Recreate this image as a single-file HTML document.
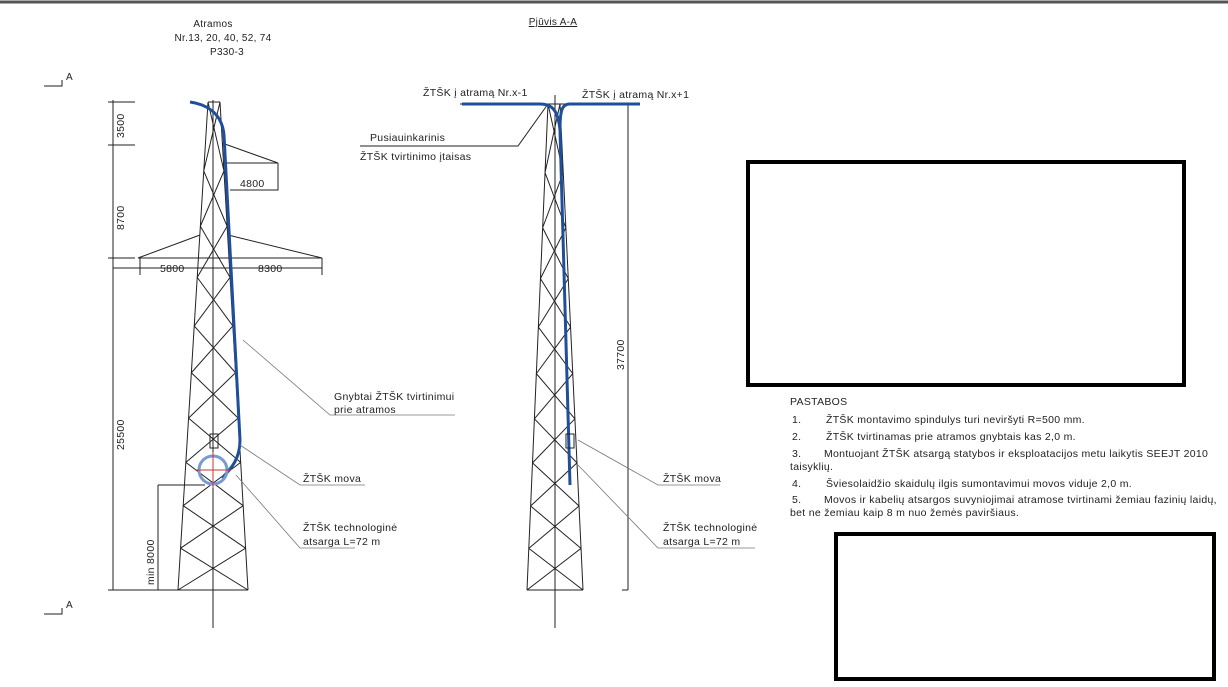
<!DOCTYPE html>
<html><head><meta charset="utf-8"><style>
body{margin:0;background:#fff;width:1228px;height:682px;overflow:hidden}
svg text{font-family:"Liberation Sans",sans-serif;fill:#222;letter-spacing:0.3px}
</style></head><body>
<svg id="s" width="1228" height="682" viewBox="0 0 1228 682" xmlns="http://www.w3.org/2000/svg">
<line x1="0" y1="2" x2="1228" y2="2" stroke="#555" stroke-width="3"/>
<g font-size="10">
<text x="213" y="27" text-anchor="middle">Atramos</text>
<text x="223" y="41" text-anchor="middle">Nr.13, 20, 40, 52, 74</text>
<text x="227" y="55" text-anchor="middle">P330-3</text>
<text x="553" y="25" text-anchor="middle" text-decoration="underline">Pjūvis A-A</text>
<text x="66" y="80">A</text><text x="66" y="608">A</text>
</g>
<g stroke="#222" stroke-width="1" fill="none">
<path d="M44 86H62V80M44 614H62V608"/>
<path d="M113 100V590M108 102H135M108 145H135M108 258H135M108 590H178M158 485V590M158 485H205"/>
<path d="M140 258H322M140 258V275M322 258V275M113 268H322M230 190H278V188M278 163V190"/>
<path d="M225 163L278 163L222 143M225 258L322 258L228 235M205 258L138 258L200 235"/>
<path d="M213 100V628"/>
<path d="M460 104H625M628 104V590M622 590H628M555 95V628"/>
<path d="M360 146H518L548 104"/>
</g>
<g id="t1" stroke="#222" stroke-width="1" fill="none"></g>
<g fill="none" stroke="#1f4f9a" stroke-width="3">
<path d="M190 102C205 104 222 112 224 135L240 440C240 458 232 468 222 478"/>
<path d="M462 104H540C552 104 558 110 560 130L570 485"/>
<path d="M640 104H570C562 104 560 110 560 130"/>
</g>
<g stroke="#c33" stroke-width="1" fill="none"><circle cx="213" cy="470" r="14" stroke="#7a9ad0" stroke-width="3"/><path d="M195 470H231M213 452V488"/></g>
<rect x="210" y="434" width="8" height="14" fill="none" stroke="#222"/>
<rect x="566" y="434" width="8" height="14" fill="none" stroke="#222"/>
<g stroke="#777" stroke-width="0.8" fill="none">
<path d="M243 340L330 415H455M240 445L300 485H365M236 475L300 548H355"/>
<path d="M578 440L658 485H720M578 465L658 548H755"/>
</g>
<g font-size="10.5">
<text x="124" y="138" transform="rotate(-90 124 138)">3500</text>
<text x="124" y="230" transform="rotate(-90 124 230)">8700</text>
<text x="124" y="450" transform="rotate(-90 124 450)">25500</text>
<text x="154" y="585" transform="rotate(-90 154 585)">min 8000</text>
<text x="624" y="370" transform="rotate(-90 624 370)">37700</text>
<text x="240" y="187">4800</text><text x="160" y="272">5800</text><text x="258" y="272">8300</text>
<text x="334" y="400">Gnybtai ŽTŠK tvirtinimui</text><text x="334" y="413">prie atramos</text>
<text x="303" y="482">ŽTŠK mova</text>
<text x="303" y="531">ŽTŠK technologinė</text><text x="303" y="545">atsarga L=72 m</text>
<text x="663" y="482">ŽTŠK mova</text>
<text x="663" y="531">ŽTŠK technologinė</text><text x="663" y="545">atsarga L=72 m</text>
<text x="423" y="96">ŽTŠK į atramą Nr.x-1</text><text x="582" y="98">ŽTŠK į atramą Nr.x+1</text>
<text x="370" y="141">Pusiauinkarinis</text><text x="360" y="160">ŽTŠK tvirtinimo įtaisas</text>
<text x="790" y="405">PASTABOS</text>
<text x="792" y="423">1.</text><text x="826" y="423">ŽTŠK montavimo spindulys turi neviršyti R=500 mm.</text>
<text x="792" y="440">2.</text><text x="826" y="440">ŽTŠK tvirtinamas prie atramos gnybtais kas 2,0 m.</text>
<text x="792" y="457">3.</text><text x="824" y="457">Montuojant ŽTŠK atsargą statybos ir eksploatacijos metu laikytis SEEJT 2010</text>
<text x="790" y="470">taisyklių.</text>
<text x="792" y="487">4.</text><text x="826" y="487">Šviesolaidžio skaidulų ilgis sumontavimui movos viduje 2,0 m.</text>
<text x="792" y="503">5.</text><text x="824" y="503">Movos ir kabelių atsargos suvyniojimai atramose tvirtinami žemiau fazinių laidų,</text>
<text x="790" y="516">bet ne žemiau kaip 8 m nuo žemės paviršiaus.</text>
</g>
<rect x="748" y="162" width="436" height="223" fill="none" stroke="#000" stroke-width="4"/>
<rect x="836" y="534" width="378" height="145" fill="none" stroke="#000" stroke-width="4"/>
</svg>
<script>
function tower(tl,tr,bl,br,yt,yb,n){
 var g=document.getElementById('t1'),d='';
 d+='M'+tl+' '+yt+'L'+bl+' '+yb+'M'+tr+' '+yt+'L'+br+' '+yb+'M'+tl+' '+yt+'H'+tr+'M'+bl+' '+yb+'H'+br;
 var ys=[];for(var i=0;i<=n;i++){var t=i/n;ys.push(yt+(yb-yt)*Math.pow(t,0.85));}
 function L(y){var t=(y-yt)/(yb-yt);return tl+(bl-tl)*t}
 function R(y){var t=(y-yt)/(yb-yt);return tr+(br-tr)*t}
 for(var i=0;i<n;i++){var a=ys[i],b=ys[i+1];
  d+='M'+L(a)+' '+a+'L'+R(b)+' '+b+'M'+R(a)+' '+a+'L'+L(b)+' '+b;}
 var p=document.createElementNS('http://www.w3.org/2000/svg','path');p.setAttribute('d',d);g.appendChild(p);
}
tower(208,220,178,248,102,590,10);
tower(548,560,527,583,104,590,10);
</script>
</body></html>
